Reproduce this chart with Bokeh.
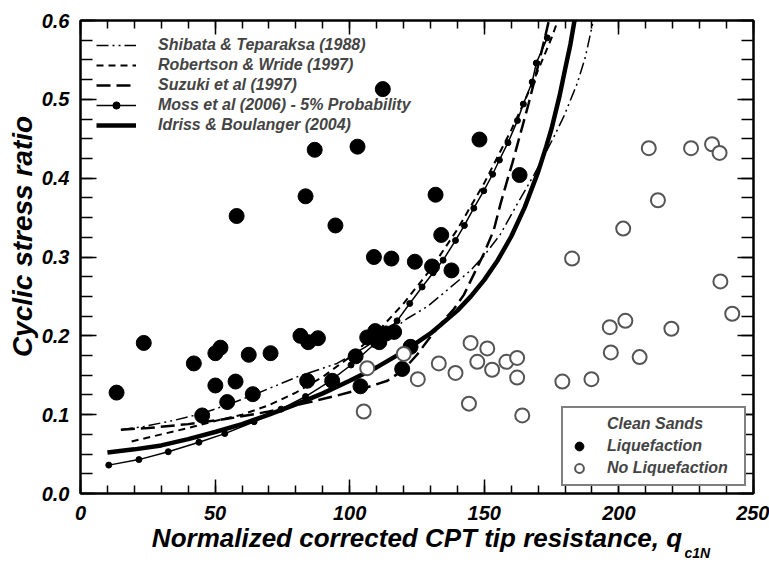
import math
from bokeh.plotting import figure
from bokeh.models import (Range1d, LinearAxis, SingleIntervalTicker, PrintfTickFormatter,
                          Legend, LegendItem, Label, BoxAnnotation)
from bokeh.embed import file_html
from bokeh.resources import INLINE

# ---------------- data ----------------
liq_q = [13.4, 23.5, 42.1, 50.1, 52.0, 50.1, 57.6, 54.5, 45.2, 62.5, 70.6, 64.0, 81.7, 84.6,
         88.2, 84.2, 58.0, 83.6, 87.0, 94.7, 102.9, 112.3, 148.2, 163.1, 131.9, 134.0, 109.0,
         115.5, 124.2, 130.6, 137.8, 106.5, 109.5, 111.0, 113.5, 116.5, 122.6, 102.2, 93.5,
         104.0, 119.5]
liq_csr = [0.128, 0.191, 0.165, 0.178, 0.185, 0.137, 0.142, 0.116, 0.099, 0.176, 0.178, 0.126,
           0.200, 0.192, 0.197, 0.143, 0.352, 0.377, 0.436, 0.340, 0.440, 0.513, 0.449, 0.404,
           0.379, 0.328, 0.300, 0.298, 0.294, 0.288, 0.283, 0.198, 0.206, 0.192, 0.203, 0.205,
           0.186, 0.174, 0.143, 0.136, 0.158]

noliq_q = [105.2, 106.5, 120.1, 125.3, 133.1, 139.3, 144.9, 144.3, 147.4, 151.1, 152.9, 158.2,
           162.2, 162.2, 164.1, 211.1, 226.8, 234.6, 237.4, 214.5, 201.6, 182.6, 237.7, 242.1,
           202.4, 196.6, 219.5, 197.0, 207.7, 179.0, 189.8]
noliq_csr = [0.104, 0.159, 0.177, 0.145, 0.165, 0.153, 0.191, 0.114, 0.167, 0.184, 0.157, 0.167,
             0.172, 0.147, 0.099, 0.438, 0.438, 0.443, 0.432, 0.372, 0.336, 0.298, 0.269, 0.228,
             0.219, 0.211, 0.209, 0.179, 0.173, 0.142, 0.145]

shibata_q = [15, 23.5, 35, 44.6, 55, 65, 80.5, 95.3, 105, 113.9, 121.4, 128.8, 136.2, 144.9,
             150, 156, 162.2, 168.4, 172, 175.8, 179.5, 184.5, 187.5, 190.5]
shibata_csr = [0.081, 0.085, 0.093, 0.101, 0.113, 0.126, 0.148, 0.165, 0.184, 0.203, 0.222,
               0.237, 0.258, 0.283, 0.302, 0.329, 0.367, 0.404, 0.427, 0.452, 0.478, 0.520,
               0.553, 0.600]

robertson_q = [19, 30, 40, 50, 60, 70, 80, 90, 100, 110, 120, 130, 140, 150, 160, 165, 170,
               175, 177.3]
robertson_csr = [0.066, 0.075, 0.083, 0.092, 0.100, 0.112, 0.128, 0.148, 0.173, 0.204, 0.241,
                 0.284, 0.335, 0.394, 0.461, 0.498, 0.537, 0.578, 0.600]

suzuki_q = [15, 25, 40, 55, 70, 84, 95, 105, 114, 120, 125, 130, 134, 138.7, 142.4, 146.1,
            149.8, 153.5, 156, 158.5, 160.5, 162.5, 164.5, 166.5, 168.5, 170.5, 172.5, 174]
suzuki_csr = [0.081, 0.083, 0.088, 0.095, 0.104, 0.115, 0.124, 0.133, 0.143, 0.157, 0.176,
              0.199, 0.216, 0.234, 0.252, 0.278, 0.304, 0.334, 0.367, 0.397, 0.420, 0.445,
              0.470, 0.495, 0.522, 0.550, 0.578, 0.600]

moss_q = [10.5, 21.7, 32.6, 44.0, 53.6, 64.5, 74.5, 83.6, 92.0, 100.5, 109.0, 117.6, 122.3,
          126.9, 131.0, 134.7, 139.3, 142.6, 146.1, 149.8, 153.1, 155.6, 158.8, 162.3, 164.5,
          167.8, 169.3, 173.4]
moss_csr = [0.036, 0.043, 0.053, 0.065, 0.076, 0.091, 0.107, 0.123, 0.141, 0.163, 0.189, 0.219,
            0.241, 0.262, 0.280, 0.296, 0.321, 0.340, 0.362, 0.384, 0.405, 0.423, 0.445, 0.473,
            0.494, 0.522, 0.546, 0.578]

idriss_q = [10, 20, 30, 40, 50, 60, 70, 80, 90, 100, 110, 120, 130, 140, 145, 150, 155, 160,
            165, 170, 173, 175, 178, 180, 182, 183.5]
idriss_csr = [0.052, 0.056, 0.061, 0.069, 0.078, 0.088, 0.100, 0.113, 0.127, 0.143, 0.160,
              0.180, 0.203, 0.232, 0.250, 0.271, 0.296, 0.326, 0.363, 0.408, 0.440, 0.463,
              0.505, 0.538, 0.570, 0.600]

x_ticks_interval = 50
y_ticks_interval = 0.1

FONT = "Liberation Sans"
FS = "bold italic"

p = figure(width=769, height=563, output_backend="svg", toolbar_location=None,
           x_range=Range1d(0, 250), y_range=Range1d(0, 0.60001),
           min_border_left=80, min_border_right=16, min_border_top=20, min_border_bottom=70)
p.grid.visible = False
p.outline_line_color = "black"
p.outline_line_width = 2
p.background_fill_color = "white"


def style_ax(ax, major_in, minor_in):
    ax.axis_line_width = 2
    ax.axis_line_color = "black"
    ax.major_tick_in = major_in
    ax.major_tick_out = 0
    ax.minor_tick_in = minor_in
    ax.minor_tick_out = 0
    ax.major_tick_line_width = 1.5
    ax.minor_tick_line_width = 1.5
    ax.major_tick_line_color = "black"
    ax.minor_tick_line_color = "black"


xax = p.xaxis[0]
xax.ticker = SingleIntervalTicker(interval=x_ticks_interval, num_minor_ticks=5)
style_ax(xax, 14, 8)
xax.major_label_text_font = FONT
xax.major_label_text_font_style = FS
xax.major_label_text_font_size = "20px"
xax.major_label_text_color = "black"
xax.major_label_standoff = 12
xax.axis_label = "Normalized corrected CPT tip resistance, q"
xax.axis_label_text_font = FONT
xax.axis_label_text_font_style = FS
xax.axis_label_text_font_size = "26px"
xax.axis_label_text_color = "black"
xax.axis_label_standoff = 0

yax = p.yaxis[0]
yax.ticker = SingleIntervalTicker(interval=y_ticks_interval, num_minor_ticks=4)
yax.formatter = PrintfTickFormatter(format="%.1f")
style_ax(yax, 16, 12)
yax.major_label_text_font = FONT
yax.major_label_text_font_style = FS
yax.major_label_text_font_size = "20px"
yax.major_label_text_color = "black"
yax.major_label_standoff = 11

top = LinearAxis(ticker=SingleIntervalTicker(interval=x_ticks_interval, num_minor_ticks=5),
                 major_label_text_font_size="0px", major_label_text_color=None,
                 major_label_standoff=0)
style_ax(top, 14, 8)
p.add_layout(top, "above")

right = LinearAxis(ticker=SingleIntervalTicker(interval=y_ticks_interval, num_minor_ticks=4),
                   major_label_text_font_size="0px", major_label_text_color=None,
                   major_label_standoff=0)
style_ax(right, 16, 12)
p.add_layout(right, "right")

# ---------------- curves ----------------
r_sh = p.line(shibata_q, shibata_csr, line_color="black", line_width=1.5,
              line_dash="12 4 2 4 2 4")
r_rw = p.line(robertson_q, robertson_csr, line_color="black", line_width=2, line_dash="7 5")
r_su = p.line(suzuki_q, suzuki_csr, line_color="black", line_width=2.5, line_dash="14 6")
r_mo_l = p.line(moss_q, moss_csr, line_color="black", line_width=1.5)
r_mo_s = p.scatter(moss_q, moss_csr, size=6, color="black")
r_ib = p.line(idriss_q, idriss_csr, line_color="black", line_width=4.5)

# ---------------- points ----------------
r_liq = p.scatter(liq_q, liq_csr, size=15, fill_color="black", line_color="black")
r_nl = p.scatter(noliq_q, noliq_csr, size=14, fill_color="white", line_color="#555555",
                 line_width=2)

leg1 = Legend(items=[
    LegendItem(label="Shibata & Teparaksa (1988)", renderers=[r_sh]),
    LegendItem(label="Robertson & Wride (1997)", renderers=[r_rw]),
    LegendItem(label="Suzuki et al (1997)", renderers=[r_su]),
    LegendItem(label="Moss et al (2006) - 5% Probability", renderers=[r_mo_l, r_mo_s]),
    LegendItem(label="Idriss & Boulanger (2004)", renderers=[r_ib]),
], location="top_left")
leg1.label_text_font = FONT
leg1.label_text_font_style = FS
leg1.label_text_font_size = "16px"
leg1.glyph_width = 40
leg1.glyph_height = 18
leg1.label_height = 18
leg1.spacing = 2
leg1.padding = 8
leg1.margin = 16
leg1.label_standoff = 22
leg1.border_line_color = None
leg1.background_fill_alpha = 0
p.add_layout(leg1)

leg2 = Legend(items=[
    LegendItem(label="Clean Sands"),
    LegendItem(label="Liquefaction", renderers=[r_liq]),
    LegendItem(label="No Liquefaction", renderers=[r_nl]),
], location="bottom_right")
leg2.label_text_font = FONT
leg2.label_text_font_style = FS
leg2.label_text_font_size = "16px"
leg2.glyph_width = 22
leg2.glyph_height = 22
leg2.label_height = 22
leg2.label_width = 132
leg2.spacing = 0
leg2.padding = 5
leg2.margin = 7
leg2.label_standoff = 17
leg2.border_line_color = "black"
leg2.border_line_width = 2
leg2.background_fill_color = "white"
leg2.background_fill_alpha = 1
p.add_layout(leg2)

# underline of the "Clean Sands" heading (canvas pixels from the top-left corner)
uline = BoxAnnotation(left=608, right=703, top=430, bottom=432, left_units="canvas",
                      right_units="canvas", top_units="canvas", bottom_units="canvas",
                      fill_color="black", fill_alpha=1, line_color=None, level="overlay")
p.add_layout(uline)

# subscript of the x-axis title (canvas pixels, measured from the top-left corner)
sub = Label(x=684, y=552, x_units="canvas", y_units="canvas", text="c1N", text_font=FONT,
            text_font_style=FS, text_font_size="14px", text_baseline="alphabetic",
            text_color="black")
p.add_layout(sub, "above")

# y-axis title, placed as in the reference (centred a little above the frame centre)
ytitle = Label(x=22, y=236, x_units="canvas", y_units="canvas", text="Cyclic stress ratio",
               text_font=FONT, text_font_style=FS, text_font_size="28px",
               text_align="center", text_baseline="middle", angle=math.pi / 2,
               text_color="black")
p.add_layout(ytitle, "left")

open("out.html", "w").write(file_html(p, INLINE))
